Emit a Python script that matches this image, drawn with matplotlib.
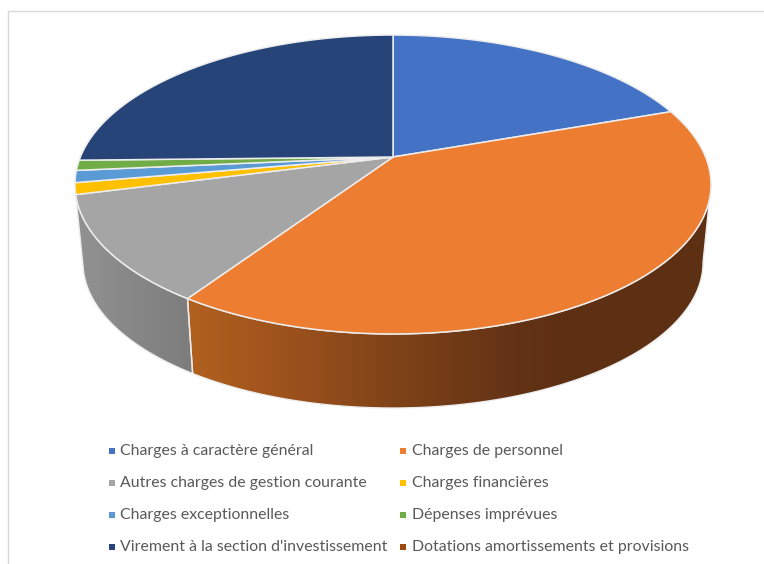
import numpy as np
import matplotlib
matplotlib.use('Agg')
import matplotlib.pyplot as plt
from matplotlib.colors import LinearSegmentedColormap
from matplotlib.patches import Polygon

categories = [
    'Charges à caractère général',
    'Charges de personnel',
    'Autres charges de gestion courante',
    'Charges financières',
    'Charges exceptionnelles',
    'Dépenses imprévues',
    "Virement à la section d'investissement",
    'Dotations amortissements et provisions',
]
shares = [19.6, 39.8, 11.6, 1.25, 1.3, 1.1, 25.35, 0.0]
colors = ['#4472C4', '#ED7D31', '#A5A5A5', '#FFC000', '#5B9BD5', '#70AD47', '#264478', '#9E480E']

# --- pie geometry, in pixels of the figure ---
CX, APEX_Y = 393, 157
RX, RY, K = 312.6, 144.4, 0.184
MID_Y = 184.5
DEPTH, BOTTOM_SCALE = 77.8, 0.975
LINE = '#EDEDED'

plt.rcParams['font.family'] = ['Lato', 'DejaVu Sans']

fig = plt.figure(figsize=(7.64, 5.64), dpi=100)
ax = fig.add_axes([0, 0, 1, 1])


def top_point(deg):
    a = np.radians(deg)
    w = 1 + K * np.cos(a)
    return CX + RX * np.sin(a) / w, APEX_Y - RY * np.cos(a) / w


def bottom_point(deg):
    x, y = top_point(deg)
    return CX + (x - CX) * BOTTOM_SCALE, MID_Y + (y - MID_Y) * BOTTOM_SCALE + DEPTH


def wall(start, end, stops):
    # side of the pie between two angles, filled by a gradient along x
    deg = np.linspace(start, end, 200)
    tx, ty = top_point(deg)
    bx, by = bottom_point(deg)
    pts = np.column_stack([np.r_[tx, bx[::-1]], np.r_[ty, by[::-1]]])
    x0, x1 = stops[0][0], stops[-1][0]
    y0, y1 = pts[:, 1].min(), pts[:, 1].max()
    cmap = LinearSegmentedColormap.from_list('wall', [((x - x0) / (x1 - x0), c) for x, c in stops])
    im = ax.imshow(np.linspace(0, 1, 256)[None, :], cmap=cmap, extent=(x0, x1, y1, y0),
                   aspect='auto', zorder=1)
    outline = Polygon(pts, closed=True, facecolor='none', edgecolor=LINE, lw=1.0, zorder=2)
    ax.add_patch(outline)
    im.set_clip_path(outline)


edges = np.cumsum([0] + shares) * 3.6

# the wall only shows from the rightmost point of the rim onwards
scan = np.linspace(0, 180, 721)
rim_start = scan[np.argmax(top_point(scan)[0])]

wall(rim_start, edges[2],
     [(185, '#B2611F'), (300, '#99501C'), (400, '#7E4217'),
      (500, '#663416'), (560, '#5E3013'), (715, '#5E3013')])
wall(edges[2], edges[3],
     [(70, '#939393'), (195, '#7C7C7C')])

for i, share in enumerate(shares):
    if share == 0:
        continue
    deg = np.linspace(edges[i], edges[i + 1], 150)
    x, y = top_point(deg)
    ax.add_patch(Polygon(np.column_stack([np.r_[CX, x], np.r_[APEX_Y, y]]), closed=True,
                         facecolor=colors[i], edgecolor=LINE, lw=1.1, zorder=3))

# chart frame
ax.plot([8, 8, 764], [564, 11, 11], color='#D9D9D9', lw=1.0, zorder=0)

# legend, two columns
for i, name in enumerate(categories):
    row, col = i // 2, i % 2
    y = [451.3, 483.3, 514.7, 546.7][row]
    ax.scatter([[111.5, 403.3][col]], [y], marker='s', s=14.5, color=colors[i], linewidths=0, zorder=4)
    ax.text([119.5, 412.5][col], y, name, fontsize=11.4, color='#595959', va='center', ha='left')

ax.set_xlim(0, 764)
ax.set_ylim(564, 0)
ax.axis('off')
fig.savefig('out.png', dpi=100)
